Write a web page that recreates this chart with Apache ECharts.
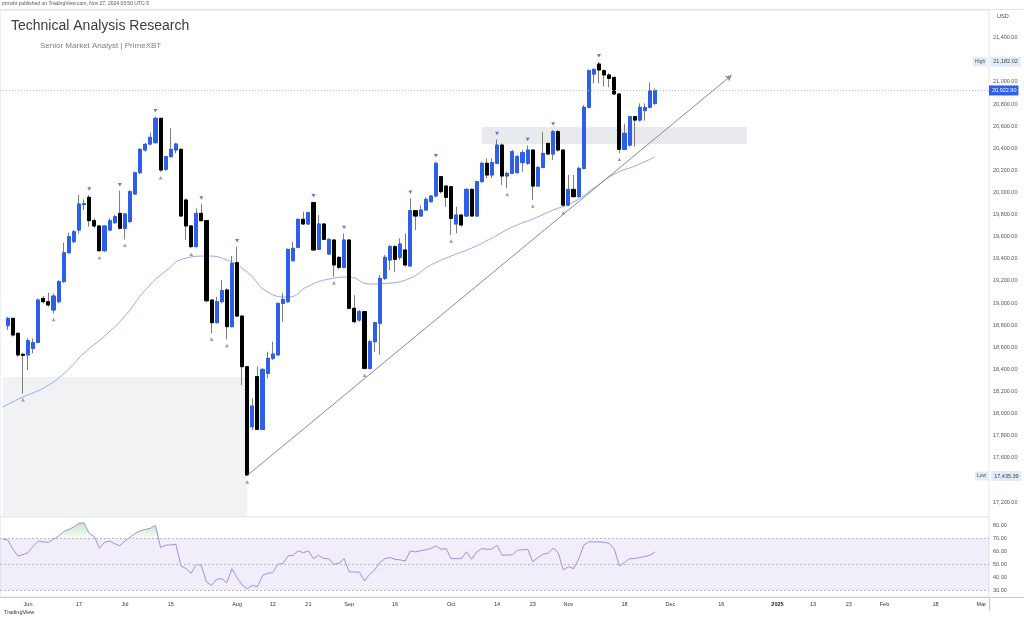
<!DOCTYPE html>
<html><head><meta charset="utf-8">
<script src="https://cdn.jsdelivr.net/npm/echarts@6/dist/echarts.min.js"></script>
<style>html,body{margin:0;padding:0;background:#fff}#chart{width:1024px;height:620px}</style>
</head><body><div id="chart"></div>
<script>
// ---------- calendar ----------
const calendarStart = '2024-05-24';
const calendarEnd = '2025-03-04';
const holidays = ['2024-05-27','2024-06-19','2024-07-04','2024-09-02','2024-11-28','2024-12-25','2025-01-01','2025-01-20','2025-02-17'];
const firstCandleDate = '2024-05-28';

// ---------- tick labels ----------
const tickDates = ['2024-06-03','2024-06-17','2024-07-01','2024-07-15','2024-08-01','2024-08-12','2024-08-21','2024-09-03','2024-09-16','2024-10-01','2024-10-14','2024-10-23','2024-11-01','2024-11-18','2024-12-02','2024-12-16','2025-01-02','2025-01-13','2025-01-23','2025-02-03','2025-02-18','2025-03-03'];
const tickLabels = ['Jun','17','Jul','15','Aug','12','21','Sep','16','Oct','14','23','Nov','18','Dec','16','2025','13','23','Feb','18','Mar'];

// ---------- OHLC ----------
const opens = [18795,18861,18726,18536,18530,18590,18644,19042,19012,18937,
19012,19193,19455,19555,19660,19890,19956,19745,19697,19473,
19660,19727,19811,19676,19736,19986,20179,20384,20438,20450,
20671,20209,20324,20384,20390,19932,19697,19510,19811,19745,
19027,18822,19012,19118,18786,19365,18882,18424,17881,18334,
17857,18364,18500,18530,18997,19012,19383,19504,19757,19715,
19908,19485,19715,19443,19570,19413,19323,19570,18952,18846,
18922,18409,18650,18816,19223,19389,19510,19413,19480,19335,
19835,19787,19841,19917,19968,20143,20058,20052,19715,19796,
19787,20028,19787,20098,20264,20158,20264,20429,20149,20173,
20179,20270,20264,20384,20058,20227,20444,20348,20550,20384,
19886,20028,19962,20218,20770,21071,21162,21102,21063,21041,
20891,20390,20429,20686,20655,20740,20770,20806];
const highs = [18876,18866,18735,18550,18680,18680,19042,19063,19093,19087,
19208,19546,19636,19660,19977,19938,19977,19766,19706,19706,
19766,19796,20016,19817,20022,20188,20399,20450,20541,20686,
20671,20330,20580,20450,20399,19947,19706,19856,19896,19751,
19033,19057,19208,19133,19425,19510,18890,18430,18138,18424,
18409,18560,18650,19003,19088,19494,19555,19766,19826,19826,
19917,19796,19720,19585,19576,19425,19630,19576,19072,18937,
18928,18665,18831,19253,19434,19525,19525,19585,19630,19947,
19841,19887,19956,19977,20279,20149,20064,20058,19871,19805,
20037,20037,20107,20279,20309,20309,20480,20444,20188,20384,
20339,20384,20425,20390,20239,20550,20450,20565,20565,20390,
20158,20158,20233,20791,21114,21123,21182.02,21114,21078,21047,
20897,20619,20692,20692,20806,20806,20993,20941];
const lows = [18756,18696,18515,18180,18394,18545,18635,18997,18967,18906,
18997,19184,19449,19540,19630,19841,19690,19676,19464,19464,
19650,19715,19666,19576,19727,19977,20167,20369,20426,20444,
20188,20197,20318,20354,19781,19570,19495,19504,19736,19003,
18726,18816,18997,18671,18780,18876,18258,17435.39,17851,17851,
17851,18318,18484,18524,18831,19003,19374,19495,19706,19705,
19474,19479,19570,19434,19238,19304,19314,18943,18816,18831,
18400,18400,18560,18530,19208,19299,19283,19389,19329,19329,
19660,19781,19835,19908,19956,19992,19870,19615,19630,19691,
19781,19781,19781,20088,20128,20128,20257,20067,20037,20167,
20173,20188,20249,19932,20052,20218,20339,20294,20369,19870,
19880,19956,19956,20209,20761,20987,20987,20957,20951,20881,
20354,20384,20414,20414,20640,20650,20761,20791];
const closes = [18861,18711,18530,18527,18659,18641,19027,19012,18982,19063,
19193,19455,19600,19645,19896,19900,19745,19697,19473,19697,
19745,19781,19676,19805,20007,20179,20390,20435,20499,20671,
20203,20324,20390,20438,19787,19697,19510,19811,19745,19021,
18822,19012,19112,18786,19359,18882,18424,17444,18068,17857,
18400,18500,18539,18997,19033,19485,19495,19757,19715,19817,
19480,19715,19576,19576,19344,19323,19570,18952,18831,18922,
18409,18650,18822,19223,19413,19510,19395,19534,19344,19835,
19787,19841,19938,19968,20264,20007,19956,19766,19796,19706,
20028,19787,20098,20264,20158,20270,20429,20149,20173,20369,
20324,20360,20384,20058,20227,20354,20348,20550,20384,19886,
20028,19962,20218,20770,21102,21114,21108,21063,21032,20891,
20390,20535,20686,20655,20770,20770,20921,20922.9];

// pivot markers (candle numbers counted from the first candle)
const pivotHighCandles = [16,22,29,38,45,60,66,79,84,96,102,107,116];
const pivotLowCandles = [3,9,18,23,30,36,40,43,47,64,70,87,98,103,109,120];

// moving average (trading-day number from calendarStart, value)
const maDays = [0,4,8,12,16,20,24,28,32,36,40,44,48,52,56,60,64,68,72,76,80,84,88,92,96,100,104,108,112,116,120,124,128];
const maValues = [18058,18150,18231,18360,18548,18701,18882,19117,19289,19407,19425,19389,19280,19099,19054,19154,19217,19235,19172,19181,19226,19343,19425,19497,19588,19687,19760,19841,19913,20040,20167,20239,20321];

// RSI, one per trading day from calendarStart
const rsiValues = [69.5,69,62,56.5,57.5,59,64,68,67.4,67,
69.5,72,75.5,77,79,82,82,74,71.5,62.5,
67,68,66,64.3,68,71,74,76,77,78,
80,63,64.8,65,65.6,48.7,46.6,43,50,49,
36.2,33.6,38.3,38.8,35.7,46.6,39.6,34,31,33.6,
32.6,41.4,43,43.5,50,50.5,56.5,57,60.4,59,
60.4,54.4,57,54.4,54.4,50,50.8,54.4,44,44,
44,37,42.2,45.6,51.3,54.4,55.2,53.8,53.4,52.6,
60.4,59.6,60.5,61.2,62.2,64.3,61.7,62.2,54.4,54.4,
54.4,59.6,53.9,59.6,62.2,61.7,61.7,64.8,57,57.2,
57.3,60.9,61.3,61.7,52,55,57.8,58.6,62.5,59,
45.6,48.2,46.6,53.9,64.8,67.4,67.4,67.4,67,66.4,
61.7,48.7,51.3,54.4,54.4,55.2,56,57,59.6];

// annotations (values)
const lastPrice = 20922.90;
const highPrice = 21182.02;
const lowPrice = 17435.39;
const zoneTop = 20592, zoneBottom = 20438, zoneFrom = '2024-10-09', zoneTo = '2024-12-23';
const demandTop = 18331, demandFrom = '2024-05-24', demandTo = '2024-08-05';
const trendFrom = ['2024-08-05', 17440], trendTo = ['2024-12-18', 21060];
const priceMin = 17064.4, priceMax = 21650.6;
const rsiMin = 24.6, rsiMax = 86.7;

// ---------- build ----------
function buildDates(){
  const out=[]; let t=Date.parse(calendarStart+'T00:00:00Z'); const end=Date.parse(calendarEnd+'T00:00:00Z');
  while(t<=end){ const d=new Date(t); const wd=d.getUTCDay(); const s=d.toISOString().slice(0,10);
    if(wd!==0&&wd!==6&&holidays.indexOf(s)<0) out.push(s); t+=86400000; }
  return out;
}
const dates = buildDates();
const off = dates.indexOf(firstCandleDate);
const candleDates = closes.map((_,k)=>dates[off+k]);
const fmt = v => Number(v).toLocaleString('en-US',{minimumFractionDigits:2,maximumFractionDigits:2});
const FONT = "'Liberation Sans', Arial, sans-serif";
const BLUE = '#2d5fe8';

const wickData = closes.map((c,k)=>[candleDates[k],opens[k],c,lows[k],highs[k]]);
const bodyData = closes.map((c,k)=>[candleDates[k],opens[k],c,Math.min(opens[k],c),Math.max(opens[k],c)]);
const hiMarks = pivotHighCandles.map(k=>[candleDates[k],highs[k]]);
const loMarks = pivotLowCandles.map(k=>[candleDates[k],lows[k]]);
const maData = maDays.map((d,i)=>[dates[d],maValues[i]]);
const rsiData = rsiValues.map((v,i)=>[dates[i],v]);
const rsiOver = rsiValues.map((v,i)=>[dates[i],Math.max(v,70)]);

const tagRich = {
  h:{backgroundColor:'#e3ebfb', color:'#555', fontSize:5, padding:[2,2], fontFamily:FONT},
  s:{width:3},
  v:{backgroundColor:'#e3ebfb', color:'#444', fontSize:5.5, padding:[2,3], fontFamily:FONT}
};

const chart = echarts.init(document.getElementById('chart'), null, {renderer:'canvas'});
const option = {
  animation:false,
  textStyle:{fontFamily:FONT},
  title:[
    {text:'prmsbt published on TradingView.com, Nov 27, 2024 03:50 UTC-5', left:2, top:1, padding:0, textStyle:{fontSize:5, color:'#555', fontWeight:'normal', fontFamily:FONT}},
    {text:'Technical Analysis Research', left:11, top:19, padding:0, textStyle:{fontSize:14, color:'#3c3c3c', fontWeight:'normal', fontFamily:FONT}},
    {text:'Senior Market Analyst | PrimeXBT', left:40, top:42, padding:0, textStyle:{fontSize:8, color:'#808080', fontWeight:'normal', fontFamily:FONT}},
    {text:'TradingView', left:4, top:609, padding:0, textStyle:{fontSize:5.5, color:'#333', fontWeight:'normal', fontFamily:FONT}}
  ],
  graphic:[
    {type:'line', shape:{x1:0,y1:9.5,x2:1024,y2:9.5}, style:{stroke:'#e0e3eb',lineWidth:1}, silent:true},
    {type:'line', shape:{x1:0,y1:597.5,x2:1024,y2:597.5}, style:{stroke:'#c8cad2',lineWidth:1}, silent:true},
    {type:'line', shape:{x1:989.5,y1:597,x2:989.5,y2:611}, style:{stroke:'#c8cad2',lineWidth:1}, silent:true}
  ],
  grid:[
    {left:-1, right:35, top:10, height:507, show:true, borderColor:'#e0e3eb', borderWidth:1, backgroundColor:'#fff'},
    {left:-1, right:35, top:517, height:80, show:true, borderColor:'#e0e3eb', borderWidth:1, backgroundColor:'#fff'}
  ],
  xAxis:[
    {type:'category', gridIndex:0, data:dates, boundaryGap:true, axisLine:{show:false}, axisTick:{show:false}, axisLabel:{show:false}, splitLine:{show:false}},
    {type:'category', gridIndex:1, data:dates, boundaryGap:true, axisLine:{show:false}, axisTick:{show:false}, splitLine:{show:false},
     axisLabel:{show:true, fontSize:5.5, color:'#333', margin:4, hideOverlap:false,
       interval:(i,v)=>tickDates.indexOf(v)>=0,
       formatter:(v)=>{const i=tickDates.indexOf(v); const t=tickLabels[i]; return t==='2025'?'{b|2025}':t;},
       rich:{b:{fontWeight:'bold',fontSize:5.5,color:'#222'}}}}
  ],
  yAxis:[
    {type:'value', gridIndex:0, position:'right', min:priceMin, max:priceMax, minInterval:200, maxInterval:200, splitNumber:23,
     name:'USD', nameLocation:'end', nameGap:-9, nameTextStyle:{fontSize:5.5, color:'#444', align:'left', padding:[0,0,0,8]},
     axisLine:{show:false}, axisTick:{show:false}, splitLine:{show:false},
     axisLabel:{fontSize:5.5, color:'#555', margin:4, formatter:v=>{ if(Math.abs(v/200-Math.round(v/200))>1e-6) return ''; if(v>21400||v<17200||v===21200||v===17400) return ''; return fmt(v);} }},
    {type:'value', gridIndex:1, position:'right', min:rsiMin, max:rsiMax, minInterval:10, maxInterval:10, splitNumber:6,
     axisLine:{show:false}, axisTick:{show:false}, splitLine:{show:false},
     axisLabel:{fontSize:5.5, color:'#555', margin:4, formatter:v=>{ if(Math.abs(v/10-Math.round(v/10))>1e-6) return ''; if(v<30||v>80) return ''; return v.toFixed(2);} }}
  ],
  series:[
    {type:'candlestick', name:'wicks', xAxisIndex:0, yAxisIndex:0, data:wickData, encode:{x:0,y:[1,2,3,4]}, barWidth:3.6, z:3,
     itemStyle:{color:'rgba(0,0,0,0)', color0:'rgba(0,0,0,0)', borderColor:'#7d7d7d', borderColor0:'#7d7d7d', borderWidth:1},
     markArea:{silent:true, data:[
       [{coord:[demandFrom, demandTop], itemStyle:{color:'rgba(236,237,240,0.75)'}},{coord:[demandTo, priceMin]}],
       [{coord:[zoneFrom, zoneTop], itemStyle:{color:'rgba(226,227,231,0.75)'}},{coord:[zoneTo, zoneBottom]}]
     ]},
     markLine:{silent:true, symbol:['none','none'], animation:false, data:[
       [{coord:trendFrom, lineStyle:{color:'#8a8a8a',width:1,type:'solid'}, symbol:'none'},{coord:trendTo, symbol:'arrow', symbolSize:[5,6]}],
       {yAxis:lastPrice, lineStyle:{color:'#a9c1c9', width:1, type:[1,2]},
        label:{show:true, position:'end', distance:0, formatter:fmt(lastPrice), backgroundColor:BLUE, color:'#fff', fontSize:5.5, padding:[2,2,2,3]}},
       {yAxis:highPrice, lineStyle:{color:'rgba(0,0,0,0)', width:0},
        label:{show:true, position:'end', distance:0, offset:[-16,0], formatter:'{h|High}{s|}{v|'+fmt(highPrice)+'}', rich:tagRich}},
       {yAxis:lowPrice, lineStyle:{color:'rgba(0,0,0,0)', width:0},
        label:{show:true, position:'end', distance:0, offset:[-14,0], formatter:'{h|Low}{s|}{v|'+fmt(lowPrice)+'}', rich:tagRich}}
     ]}},
    {type:'candlestick', name:'bodies', xAxisIndex:0, yAxisIndex:0, data:bodyData, encode:{x:0,y:[1,2,3,4]}, barWidth:3.6, z:4,
     itemStyle:{color:BLUE, color0:'#000', borderColor:BLUE, borderColor0:'#000', borderWidth:1}},
    {type:'line', name:'MA', xAxisIndex:0, yAxisIndex:0, data:maData, smooth:0.5, showSymbol:false, symbol:'none', z:2,
     lineStyle:{color:'#93aaf5', width:1}},
    {type:'scatter', name:'pivotHigh', xAxisIndex:0, yAxisIndex:0, data:hiMarks, symbol:'triangle', symbolRotate:180, symbolSize:[4,3.5], symbolOffset:[0,-6], z:5,
     itemStyle:{color:BLUE}},
    {type:'scatter', name:'pivotLow', xAxisIndex:0, yAxisIndex:0, data:loMarks, symbol:'triangle', symbolSize:[4,3.5], symbolOffset:[0,6], z:5,
     itemStyle:{color:'#8a8a8a'}},
    {type:'line', name:'RSIover', xAxisIndex:1, yAxisIndex:1, data:rsiOver, showSymbol:false, symbol:'none', lineStyle:{opacity:0},
     areaStyle:{origin:70, color:new echarts.graphic.LinearGradient(0,0,0,1,[{offset:0,color:'rgba(76,175,80,0.45)'},{offset:1,color:'rgba(76,175,80,0.05)'}])}},
    {type:'line', name:'RSI', xAxisIndex:1, yAxisIndex:1, data:rsiData, showSymbol:false, symbol:'none', z:4,
     lineStyle:{color:'#a48fe0', width:1},
     markArea:{silent:true, itemStyle:{color:'rgba(126,87,194,0.1)'}, data:[[{yAxis:30},{yAxis:70}]]},
     markLine:{silent:true, symbol:['none','none'], label:{show:false}, lineStyle:{color:'#b8b8c4', type:[2,2], width:1},
       data:[{yAxis:70},{yAxis:50},{yAxis:30}]}}
  ]
};
chart.setOption(option);
</script>
</body></html>
